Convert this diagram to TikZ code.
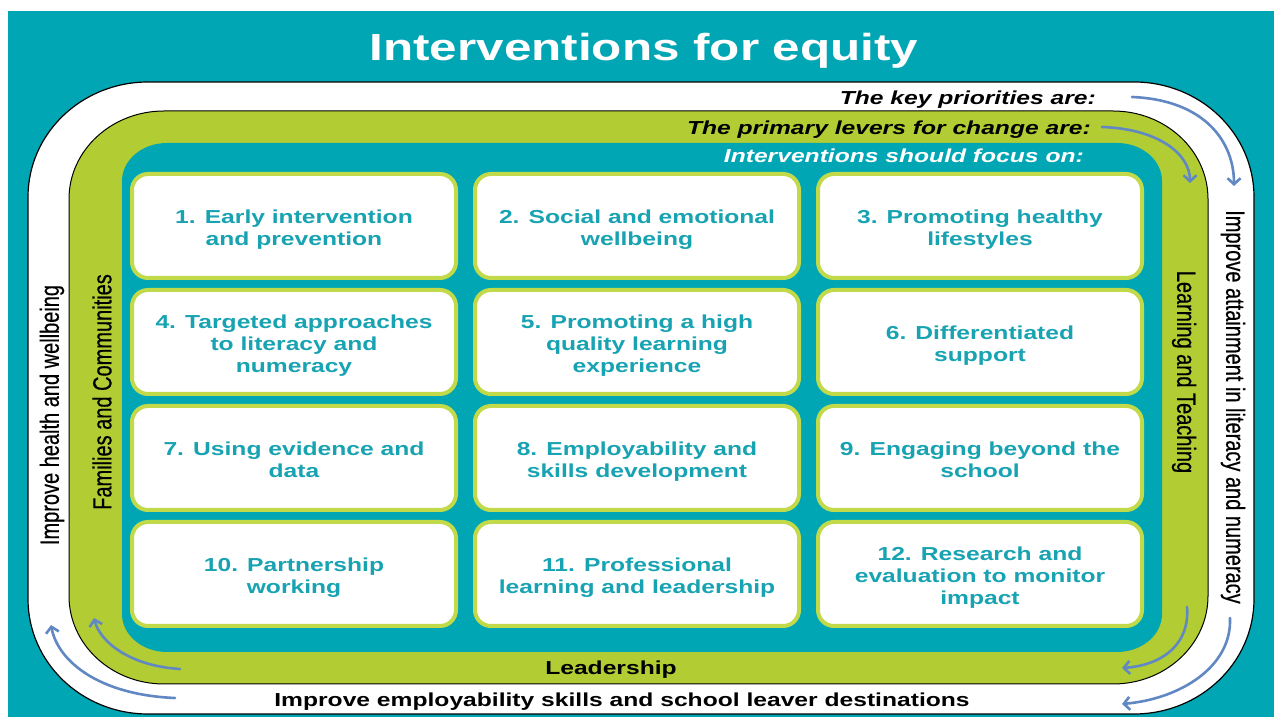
\documentclass[tikz,border=0pt]{standalone}
\usepackage{fontspec}
\setmainfont[FakeStretch=1.31]{Liberation Sans}
\newfontfamily\sidefont[FakeBold=0.6]{Liberation Sans}
\usetikzlibrary{positioning, arrows.meta}
\definecolor{tealcol}{RGB}{0,166,180}
\definecolor{greencol}{RGB}{178,204,51}
\definecolor{boxcol}{RGB}{194,218,74}
\definecolor{textcol}{RGB}{24,163,178}
\definecolor{arrowcol}{RGB}{98,136,196}
\newcommand{\itemtext}[1]{\begin{tabular}{@{}c@{}}\rule{0pt}{23pt}#1\end{tabular}}

\begin{document}
\begin{tikzpicture}[
			x=1pt, y=1pt,
			on grid,
			roundband/.style n args={6}{
				insert path={(#1+#5,#4) -- (#3-#5,#4)
					arc[start angle=90, end angle=0, x radius=#5, y radius=#6]
					-- (#3,#2+#6)
					arc[start angle=0, end angle=-90, x radius=#5, y radius=#6]
					-- (#1+#5,#2)
					arc[start angle=270, end angle=180, x radius=#5, y radius=#6]
					-- (#1,#4-#6)
					arc[start angle=180, end angle=90, x radius=#5, y radius=#6]
					-- cycle}
			},
			item/.style={
				draw=boxcol,
				line width=4pt,
				fill=white,
				rounded corners=16pt,
				minimum width=324pt,
				minimum height=104pt,
				inner sep=0pt,
				text=textcol,
				font=\fontsize{18.8}{22}\selectfont\bfseries
			},
			heading/.style={
				anchor=base east,
				inner sep=0pt,
				font=\fontsize{18.8}{22}\selectfont\bfseries\itshape
			},
			bandlabel/.style={
				inner sep=0pt,
				font=\fontsize{18.8}{22}\selectfont\bfseries
			},
			sidelabel/.style={
				inner sep=0pt,
				font=\sidefont\fontsize{20}{24}\selectfont
			},
			flow/.style={
				draw=arrowcol,
				line width=2.6pt,
				line cap=round,
				-{Straight Barb[length=6pt, width=13pt]}
			}
			]
			% Background
			\fill[white] (0,0) rectangle (1280,717);
			\useasboundingbox (0,0) rectangle (1280,717);
			\fill[tealcol] (8,0) rectangle (1274,706);
			% Bands
			\path[fill=white, draw=black, line width=1.2pt, roundband={28}{3}{1254}{635}{120}{115}];
			\path[fill=greencol, draw=black, line width=1pt, roundband={69}{33}{1208}{606}{95}{88}];
			\path[fill=tealcol, roundband={122}{65}{1162}{574}{45}{38}];
			% Title and headings
			\node[anchor=base, text=white, inner sep=0pt, font=\fontsize{37.7}{40}\selectfont\bfseries] (title) at (644,656) {Interventions for equity};
			\node[heading] (priorities) at (1096,612) {The key priorities are:};
			\node[heading] (levers) at (1091,582) {The primary levers for change are:};
			\node[heading, text=white] (focus) at (1084,554) {Interventions should focus on:};
			% Boxes
			\node[item] (b1) at (294,491) {\itemtext{1. Early intervention\\and prevention}};
			\node[item] (b2) [right=343pt of b1] {\itemtext{2. Social and emotional\\wellbeing}};
			\node[item] (b3) [right=343pt of b2] {\itemtext{3. Promoting healthy\\lifestyles}};
			\node[item] (b4) [below=116pt of b1] {\itemtext{4. Targeted approaches\\to literacy and\\numeracy}};
			\node[item] (b5) [right=343pt of b4] {\itemtext{5. Promoting a high\\quality learning\\experience}};
			\node[item] (b6) [right=343pt of b5] {\itemtext{6. Differentiated\\support}};
			\node[item] (b7) [below=116pt of b4] {\itemtext{7. Using evidence and\\data}};
			\node[item] (b8) [right=343pt of b7] {\itemtext{8. Employability and\\skills development}};
			\node[item] (b9) [right=343pt of b8] {\itemtext{9. Engaging beyond the\\school}};
			\node[item] (b10) [below=116pt of b7] {\itemtext{10. Partnership\\working}};
			\node[item] (b11) [right=343pt of b10] {\itemtext{11. Professional\\learning and leadership}};
			\node[item] (b12) [right=343pt of b11] {\itemtext{12. Research and\\evaluation to monitor\\impact}};
			% Band labels
			\node[bandlabel, anchor=base] (leadership) at (611,42) {Leadership};
			\node[bandlabel, anchor=base] (employ) at (622,10) {Improve employability skills and school leaver destinations};
			\node[sidelabel, rotate=-90] (attain) at (1233,310) {\scalebox{1}[1.31]{Improve attainment in literacy and numeracy}};
			\node[sidelabel, rotate=-90] (teaching) at (1184,345) {\scalebox{1}[1.31]{Learning and Teaching}};
			\node[sidelabel, rotate=90] (health) at (52,302) {\scalebox{1}[1.31]{Improve health and wellbeing}};
			\node[sidelabel, rotate=90] (families) at (102,325) {\scalebox{1}[1.31]{Families and Communities}};
			% Arrows
			\coordinate (kpS) at (1132,620);
			\coordinate (kpE) at (1234,531);
			\coordinate (lvS) at (1102,590);
			\coordinate (lvE) at (1190,534);
			\coordinate (ltS) at (1187,110);
			\coordinate (ltE) at (1122,49);
			\coordinate (atS) at (1230,99);
			\coordinate (atE) at (1122,13);
			\coordinate (ldS) at (180,48);
			\coordinate (ldE) at (94,99);
			\coordinate (emS) at (175,19);
			\coordinate (emE) at (51,92);
			\draw[flow] (kpS) .. controls (1205,617) and (1234,575) .. (kpE);
			\draw[flow] (lvS) .. controls (1160,588) and (1190,562) .. (lvE);
			\draw[flow] (ltS) .. controls (1190,75) and (1165,52) .. (ltE);
			\draw[flow] (atS) .. controls (1232,50) and (1180,18) .. (atE);
			\draw[flow] (ldS) .. controls (130,51) and (100,75) .. (ldE);
			\draw[flow] (emS) .. controls (100,22) and (58,55) .. (emE);
		\end{tikzpicture}
\end{document}
